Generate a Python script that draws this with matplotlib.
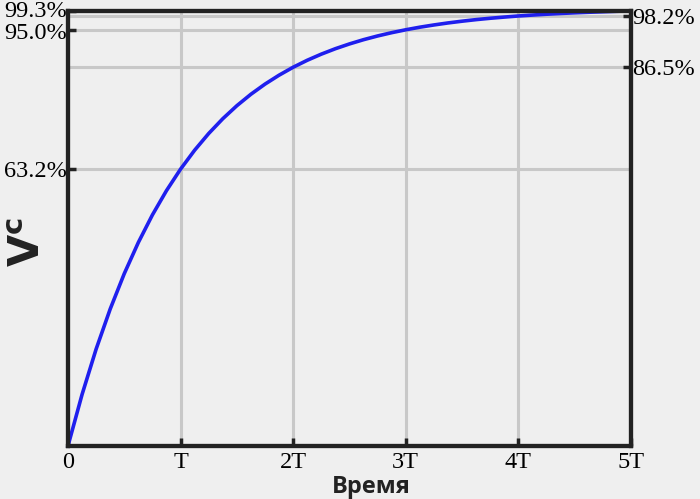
import matplotlib
matplotlib.use("Agg")
import matplotlib.pyplot as plt
from matplotlib.transforms import ScaledTranslation

# Time in units of T, and capacitor voltage fraction
t_vals = [0, 0.125, 0.25, 0.375, 0.5, 0.625, 0.75, 0.875, 1.0,
          1.125, 1.25, 1.375, 1.5, 1.625, 1.75, 1.875, 2.0,
          2.125, 2.25, 2.375, 2.5, 2.625, 2.75, 2.875, 3.0,
          3.125, 3.25, 3.375, 3.5, 3.625, 3.75, 3.875, 4.0,
          4.125, 4.25, 4.375, 4.5, 4.625, 4.75, 4.875, 5.0]
v_vals = [0.0, 0.1175, 0.2212, 0.3127, 0.3935, 0.4647, 0.5276, 0.5831, 0.6321,
          0.6753, 0.7135, 0.7472, 0.7769, 0.8031, 0.8262, 0.8466, 0.8647,
          0.8806, 0.8946, 0.9070, 0.9179, 0.9276, 0.9361, 0.9436, 0.9502,
          0.9561, 0.9612, 0.9658, 0.9698, 0.9734, 0.9765, 0.9792, 0.9817,
          0.9838, 0.9857, 0.9874, 0.9889, 0.9902, 0.9913, 0.9924, 0.9933]

x_ticks = [0, 1, 2, 3, 4, 5]
x_labels = ["0", "T", "2T", "3T", "4T", "5T"]
left_ticks = [0.632, 0.95, 0.993]
left_labels = ["63.2%", "95.0%", "99.3%"]
right_ticks = [0.865, 0.982]
right_labels = ["86.5%", "98.2%"]
grid_y = [0.632, 0.865, 0.95, 0.982]
grid_x = [1, 2, 3, 4]

plt.rcParams["mathtext.fontset"] = "dejavusans"
bg = "#efefef"
fig = plt.figure(figsize=(7.0, 4.99), dpi=100, facecolor=bg)
ax = fig.add_axes([0.0971, 0.1062, 0.8043, 0.8717], facecolor=bg)

for gy in grid_y:
    ax.axhline(gy, color="#c8c8c8", lw=2.2, zorder=1)
for gx in grid_x:
    ax.axvline(gx, color="#c8c8c8", lw=2.2, zorder=1)

ax.plot(t_vals, v_vals, color="#1f1fee", lw=2.6, zorder=3, clip_on=False)

ax.set_xlim(0, 5)
ax.set_ylim(0, 0.993)

serif = ["Liberation Serif", "DejaVu Serif"]
fs = 17.5
ax.set_xticks(x_ticks)
ax.set_xticklabels(x_labels, fontfamily=serif, fontsize=fs)
ax.set_yticks(left_ticks)
ax.set_yticklabels(left_labels, fontfamily=serif, fontsize=fs)
ax.tick_params(axis="both", direction="in", length=6, width=2.5, color="#222222", pad=4)
ax.tick_params(axis="y", pad=1)

# nudge the crowded top-left labels apart slightly
ylabs = ax.get_yticklabels()
ylabs[2].set_transform(ylabs[2].get_transform() + ScaledTranslation(0, 2 / 100, fig.dpi_scale_trans))
ylabs[1].set_transform(ylabs[1].get_transform() + ScaledTranslation(0, -1 / 100, fig.dpi_scale_trans))

ax2 = ax.twinx()
ax2.set_ylim(0, 0.993)
ax2.set_yticks(right_ticks)
ax2.set_yticklabels(right_labels, fontfamily=serif, fontsize=fs)
ax2.tick_params(axis="y", direction="in", length=6, width=2.5, color="#222222", pad=1)

for a in (ax, ax2):
    for s in a.spines.values():
        s.set_linewidth(3)
        s.set_color("#222222")
        s.set_zorder(5)

ax.set_xlabel("Время", fontfamily="Open Sans", fontweight="bold", fontsize=17, color="#222222")
ax.xaxis.set_label_coords(0.538, -0.066)
ax.xaxis.label.set_va("top")
fig.text(0.04, 0.515, r"$\mathbf{V^c}$", rotation=90, fontsize=30,
         ha="center", va="center", color="#222222")

fig.savefig("out.png", dpi=100, facecolor=bg)
